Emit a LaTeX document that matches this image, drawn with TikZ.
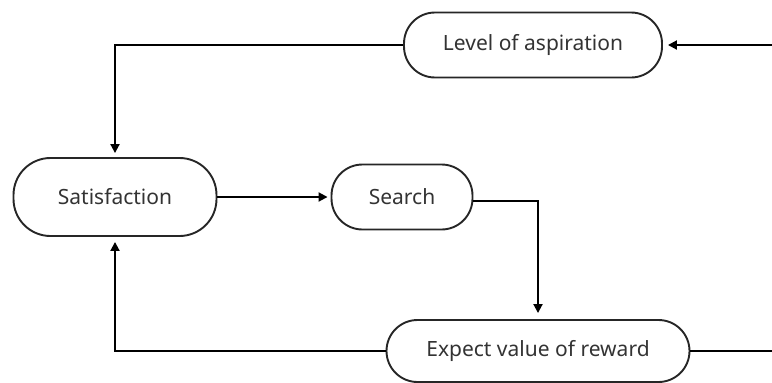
\documentclass[tikz,border=0pt]{standalone}
\usepackage{fontspec}
\setmainfont{Noto Sans}
\usetikzlibrary{arrows.meta}

\tikzset{
  box/.style={draw=black!85,line width=1.9pt,rounded corners=31pt,text=black!80,
              font=\fontsize{21}{25}\selectfont,inner sep=0pt},
  arr/.style={line width=1.9pt,-{Triangle[length=9pt,width=9pt]}},
  line/.style={line width=1.9pt}
}

\begin{document}
\begin{tikzpicture}[x=1pt,y=-1pt]
\useasboundingbox (0,0) rectangle (772,383);
\node[box,minimum width=258pt,minimum height=65pt] (level) at (533,45) {Level of aspiration};
\node[box,rounded corners=37pt,minimum width=203pt,minimum height=78pt] (sat) at (115,197) {Satisfaction};
\node[box,minimum width=141pt,minimum height=65pt] (search) at (402,197) {Search};
\node[box,minimum width=303pt,minimum height=62pt] (expect) at (538,351) {Expect value of reward};
\coordinate (rin) at (772,45);
\coordinate (rout) at (772,351);
\draw[arr,shorten >=5pt] (rin) -- (level.east);
\draw[arr,shorten >=4pt] (level.west) -| (sat.north);
\draw[arr,shorten >=3pt] (sat.east) -- (search.west);
\draw[arr,shorten >=6pt] ([yshift=-4pt]search.east) -| (expect.north);
\draw[line] (expect.east) -- (rout);
\draw[arr,shorten >=5pt] (expect.west) -| (sat.south);
\end{tikzpicture}
\end{document}
